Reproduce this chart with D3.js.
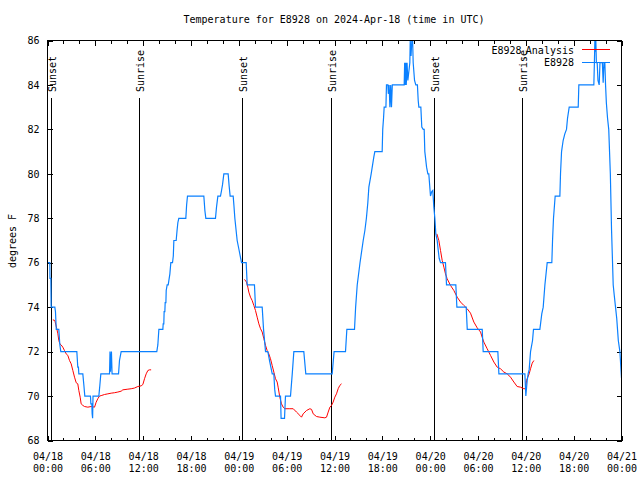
<!DOCTYPE html>
<html><head><meta charset="utf-8">
<script src="https://cdn.jsdelivr.net/npm/d3@7"></script>
<style>
body{margin:0;background:#fff;}
svg text{font-family:"DejaVu Sans Mono","Liberation Mono",monospace;font-size:10px;fill:#000;}
</style></head><body>
<svg id="c" width="640" height="480"></svg>
<script>
const chartTitle = "Temperature for E8928 on 2024-Apr-18 (time in UTC)";
const yLabel = "degrees F";
const startTime = "2024-04-18T00:00:00Z";
const endTime = "2024-04-21T00:00:00Z";
const yTicks = [68,70,72,74,76,78,80,82,84,86];
const seriesNames = ["E8928_Analysis","E8928"];

// Observations (hours since 04/18 00:00 UTC, deg F)
const obsHours = [0.00,0.29,0.31,0.42,0.46,0.92,1.00,1.10,1.42,1.55,1.67,3.68,3.80,3.88,3.93,4.43,4.56,4.68,5.39,5.44,5.56,5.60,5.66,5.71,6.44,6.57,6.69,7.78,7.84,7.90,8.02,8.10,8.91,9.03,9.24,13.71,13.84,13.97,14.47,14.51,14.59,14.63,14.72,14.76,14.85,14.89,15.01,15.14,15.35,15.47,15.68,15.78,15.85,16.14,16.25,16.35,16.47,17.35,17.45,17.56,19.61,19.74,19.86,21.07,21.20,21.37,21.70,21.83,21.95,22.12,22.66,22.78,22.91,23.29,23.38,23.50,23.79,24.04,24.20,24.34,24.92,25.05,25.96,26.09,26.93,27.10,27.35,27.64,27.90,28.19,28.39,28.50,28.60,29.23,29.30,29.73,29.85,30.48,30.70,30.90,32.15,32.40,35.71,35.95,37.38,37.55,38.51,38.65,38.85,39.20,39.60,39.81,40.00,40.18,40.31,40.60,40.93,41.06,41.98,42.05,42.15,42.23,42.45,42.52,42.70,42.75,42.85,42.95,43.05,43.15,43.25,44.74,44.80,44.85,44.95,45.00,45.10,45.20,45.45,45.50,45.60,45.70,45.80,45.87,46.04,46.20,46.40,46.50,46.58,46.83,46.95,47.13,47.25,47.33,47.55,47.71,47.83,48.04,48.20,48.33,48.46,48.59,48.71,48.88,49.00,49.13,49.30,49.92,50.05,51.22,51.35,52.52,52.65,54.53,54.65,56.49,56.62,59.88,60.00,60.17,60.29,60.42,60.59,60.84,60.96,61.76,62.00,62.18,62.39,62.68,63.26,63.35,63.47,63.68,64.27,64.35,64.48,64.68,64.89,65.10,65.23,65.44,66.57,66.65,68.53,68.60,68.66,68.72,68.78,68.85,68.95,69.05,69.20,69.30,69.49,69.60,69.70,69.80,69.91,70.00,70.10,70.25,70.40,70.60,70.75,70.96,71.10,71.25,71.40,71.50,71.60,71.80,72.00];
const obsTemps = [76,76,75.3,75.3,74,74,73.8,73,73,72.3,72,72,71.3,71.3,71,71,70.5,70,70,69.65,69.65,69.2,69,70,70,70.5,71,71,72,71.1,72,71,71,71.6,72,72,72.3,73,73,73.25,73.25,73.8,73.8,74.2,74.2,74.75,75,75,75.5,76,76,76.3,77,77,77.45,77.8,78,78,78.6,79,79,78.35,78,78,78.5,79,79,79.25,79.5,80,80,79.47,79,79,78.6,78,77,76.55,76.25,76,76,75,75,74,74,73,72,72,71.5,71,71,70.3,70,70,69,69,70,70,71,72,72,71,71,72,72,73,73,74,75,76,77,77.45,78,78.7,79.4,80,80.75,81,81,82,82.5,83,83,84,84,83.6,84,83,84,83,84,84,85,84,85,84,85,84.2,85,86,85.3,86,86,85,84.2,84,84,83.3,83,83,82.1,82,82,81,80.3,80,80,79,79.2,79.25,78.5,78,77.3,77,76.6,76.2,76,76,75,75,74,74,73,73,72,72,71,71,70,70.7,71,71.2,72,72.5,73,73,73.7,74,75,76,76,77,78,79,79,80,81,81.5,81.8,82,82.5,83,83,84,84,85,86,85.5,86,85,85,84.2,84,85,85,85,84.1,85,85,84,83.2,82.5,82,80,77.5,75,74.5,74,73.5,73,72.5,72,70.8];

// Analysis (null = gap between runs)
const anaHours = [0.67,0.92,1.05,1.17,1.30,1.42,1.55,1.71,1.92,2.13,2.34,2.55,2.76,2.97,3.18,3.39,3.60,3.80,3.93,4.10,4.22,4.43,4.64,5.06,5.48,5.90,6.10,6.31,6.52,6.73,7.15,7.57,7.99,8.40,8.82,9.24,9.45,10.08,10.50,10.91,11.33,11.75,11.96,12.17,12.38,12.59,12.79,13.00,
  null,
  24.71,24.96,25.13,25.25,25.46,25.67,25.88,26.09,26.30,26.51,26.72,26.93,27.14,27.35,27.55,27.76,27.97,28.18,28.39,28.60,28.81,28.93,29.14,29.35,29.56,29.77,30.40,30.82,31.23,31.65,31.86,32.07,32.49,32.91,33.12,33.33,33.74,34.16,34.79,35.00,35.21,35.42,35.63,35.83,36.04,36.25,36.46,36.67,36.88,
  null,
  48.84,49.09,49.30,49.51,49.72,49.92,50.13,50.55,50.97,51.39,51.81,52.22,52.64,53.06,53.48,53.90,54.32,54.52,54.73,55.15,55.57,55.99,56.41,56.82,57.24,57.66,58.08,58.50,58.91,59.33,59.75,59.96,60.08,60.25,60.42,60.59,60.80,61.01];
const anaTemps = [73.43,73.4,73.2,73.03,72.8,72.5,72.35,72.3,72.2,72.05,71.9,71.83,71.6,71.45,71.15,70.85,70.6,70.55,70.25,69.95,69.65,69.58,69.53,69.5,69.53,69.5,69.72,69.88,70.0,70.02,70.07,70.1,70.13,70.15,70.18,70.22,70.28,70.31,70.33,70.36,70.43,70.46,70.52,70.78,71.0,71.15,71.18,71.18,
  null,
  75.25,75.13,74.9,74.68,74.45,74.3,74.08,73.85,73.55,73.25,73.03,72.88,72.58,72.28,72.05,71.9,71.68,71.38,71.08,70.78,70.63,70.4,69.95,69.65,69.5,69.43,69.43,69.43,69.28,69.13,69.05,69.2,69.35,69.43,69.4,69.2,69.08,69.05,69.02,69.05,69.28,69.5,69.58,69.73,69.95,70.1,70.33,70.48,70.55,
  null,
  77.3,77.0,76.55,76.1,75.8,75.5,75.28,74.98,74.75,74.45,74.23,74.08,73.93,73.73,73.33,73.07,72.88,72.65,72.43,72.13,71.83,71.53,71.3,71.23,71.08,71.0,70.85,70.63,70.43,70.4,70.33,70.33,70.7,70.85,71.0,71.23,71.48,71.6];

const eventNames = ["Sunset","Sunrise","Sunset","Sunrise","Sunset","Sunrise"];
const eventHours = [0.41,11.46,24.43,35.54,48.46,59.50];

const colors = {analysis:"#ff0000", obs:"#0a80ff"};

const t0 = new Date(startTime), t1 = new Date(endTime);
const toDate = h => new Date(t0.getTime() + h*3600000);

const svg = d3.select("#c");
svg.append("rect").attr("width",640).attr("height",480).attr("fill","#fff");

const L = 47.5, R = 621.5, T = 40.5, B = 440.5;
const x = d3.scaleUtc().domain([t0,t1]).range([L,R]);
const y = d3.scaleLinear().domain([68,86]).range([B,T]);

// title
svg.append("text").attr("x",334).attr("y",23).attr("text-anchor","middle").text(chartTitle);
svg.append("text").attr("transform","translate(12,241) rotate(-90)")
  .attr("text-anchor","middle").attr("dy","0.35em").text(yLabel);

const majorX = d3.utcHour.every(6).range(t0, new Date(t1.getTime()+1));
const minorX = d3.utcHour.every(2).range(t0, new Date(t1.getTime()+1)).filter(d => d.getUTCHours()%6!==0);

function styleAxis(g){ g.select(".domain").remove(); g.selectAll("line").attr("stroke","#000").attr("shape-rendering","crispEdges"); }

// bottom axis
const gb = svg.append("g").attr("transform",`translate(0,${B})`)
  .call(d3.axisBottom(x).tickValues(majorX).tickSizeInner(-5).tickSizeOuter(0).tickPadding(0));
styleAxis(gb);
const fmtD = d3.utcFormat("%m/%d"), fmtT = d3.utcFormat("%H:%M");
gb.selectAll("text").each(function(d){
  const t = d3.select(this); t.text(null).attr("y",null).attr("dy",null);
  t.append("tspan").attr("x",0).attr("y",19).text(fmtD(d));
  t.append("tspan").attr("x",0).attr("y",31).text(fmtT(d));
});
const gbm = svg.append("g").attr("transform",`translate(0,${B})`)
  .call(d3.axisBottom(x).tickValues(minorX).tickSizeInner(-3).tickSizeOuter(0).tickFormat(""));
styleAxis(gbm);
// top axis
const gt = svg.append("g").attr("transform",`translate(0,${T})`)
  .call(d3.axisTop(x).tickValues(majorX).tickSizeInner(-5).tickSizeOuter(0).tickFormat(""));
styleAxis(gt);
const gtm = svg.append("g").attr("transform",`translate(0,${T})`)
  .call(d3.axisTop(x).tickValues(minorX).tickSizeInner(-3).tickSizeOuter(0).tickFormat(""));
styleAxis(gtm);
// left / right axes
const gl = svg.append("g").attr("transform",`translate(${L},0)`)
  .call(d3.axisLeft(y).tickValues(yTicks).tickSizeInner(-5).tickSizeOuter(0).tickPadding(8).tickFormat(d3.format("d")));
styleAxis(gl);
const gr = svg.append("g").attr("transform",`translate(${R},0)`)
  .call(d3.axisRight(y).tickValues(yTicks).tickSizeInner(-5).tickSizeOuter(0).tickFormat(""));
styleAxis(gr);
svg.selectAll("g text").attr("font-size",null);
svg.selectAll("g").attr("font-family",null).attr("font-size",null);

// sunrise / sunset
const ev = svg.append("g");
eventHours.forEach((h,i) => {
  const xp = Math.round(x(toDate(h))) + 0.5;
  ev.append("line").attr("x1",xp).attr("x2",xp).attr("y1",98).attr("y2",B)
    .attr("stroke","#000").attr("stroke-width",1).attr("shape-rendering","crispEdges");
  ev.append("text").attr("transform",`translate(${xp+1},92) rotate(-90)`)
    .attr("dy","0.35em").attr("text-anchor","start").text(eventNames[i]);
});

// series
const clip = svg.append("clipPath").attr("id","pc").append("rect")
  .attr("x",L).attr("y",T-1).attr("width",R-L).attr("height",B-T+1);
const lineGen = d3.line().defined(d => d[0]!==null && d[1]!==null)
  .x(d => x(toDate(d[0]))).y(d => y(d[1]));
const anaData = anaHours.map((h,i) => [h, anaTemps[i]]);
const obsData = obsHours.map((h,i) => [h, obsTemps[i]]);
svg.append("path").attr("d",lineGen(anaData)).attr("fill","none")
  .attr("stroke",colors.analysis).attr("stroke-width",1).attr("clip-path","url(#pc)");
svg.append("path").attr("d",lineGen(obsData)).attr("fill","none")
  .attr("stroke",colors.obs).attr("stroke-width",1.2).attr("clip-path","url(#pc)");

// legend
const lg = svg.append("g");
const lt1 = lg.append("text").attr("x",574).attr("y",50).attr("dy","0.35em").attr("text-anchor","end");
lt1.append("tspan").text("E8928");
lt1.append("tspan").attr("font-size","7px").attr("dy","3").text("_");
lt1.append("tspan").attr("dy","-3").text("Analysis");
lg.append("line").attr("x1",582).attr("x2",610).attr("y1",49.5).attr("y2",49.5).attr("stroke",colors.analysis);
lg.append("text").attr("x",574).attr("y",62).attr("dy","0.35em").attr("text-anchor","end").text(seriesNames[1]);
lg.append("line").attr("x1",582).attr("x2",610).attr("y1",62.5).attr("y2",62.5).attr("stroke",colors.obs);

// border
svg.append("rect").attr("x",L).attr("y",T).attr("width",R-L).attr("height",B-T)
  .attr("fill","none").attr("stroke","#000").attr("shape-rendering","crispEdges");
</script>
</body></html>
